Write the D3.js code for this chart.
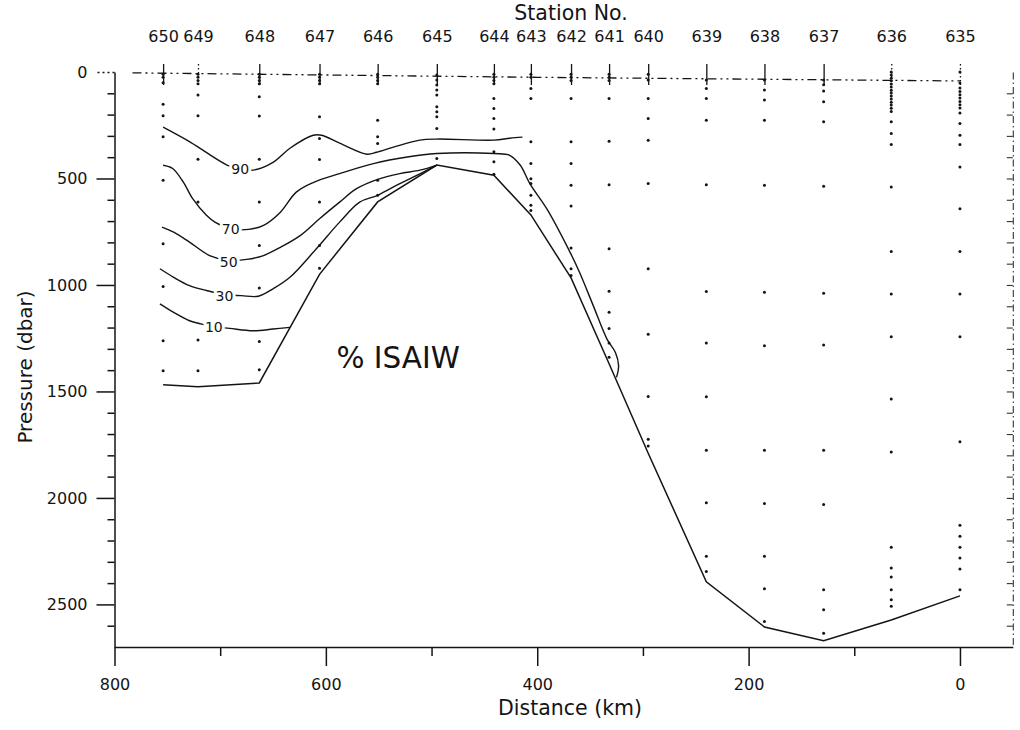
<!DOCTYPE html>
<html>
<head>
<meta charset="utf-8">
<script src="https://cdn.jsdelivr.net/npm/d3@7"></script>
<style>
  body { margin: 0; background: #fff; }
  svg { display: block; font-family: "DejaVu Sans", sans-serif; }
</style>
</head>
<body>
<svg id="chart" width="1020" height="730"></svg>
<script>
// ---- Station section: CTD stations along the track ----
const stations   = [650, 649, 648, 647, 646, 645, 644, 643, 642, 641, 640, 639, 638, 637, 636, 635];
const stationKm  = [754, 721, 663, 606, 551, 495, 441, 406, 368, 332, 295, 240, 185, 129, 65, 0];
// Deepest pressure reached at each station (sea floor trace), dbar
const bottomDbar = [1469, 1478, 1460, 950, 610, 437, 485, 671, 967, 1370, 1790, 2394, 2606, 2671, 2573, 2460];

// Bottle sample pressures per station (dbar)
const samples = [
  [10, 25, 50, 152, 206, 304, 508, 807, 1007, 1262, 1403],
  [10, 25, 40, 55, 108, 206, 410, 611, 1259, 1403],
  [10, 25, 40, 55, 116, 207, 410, 611, 815, 1014, 1266, 1398],
  [10, 25, 40, 55, 210, 312, 411, 611, 815, 921],
  [10, 25, 40, 55, 226, 304, 336, 508, 579],
  [14, 38, 61, 85, 108, 163, 187, 210, 265, 406],
  [10, 25, 40, 55, 124, 171, 218, 268, 375, 422, 480],
  [10, 25, 77, 124, 328, 430, 501, 524, 579, 626, 650],
  [10, 25, 40, 124, 328, 430, 532, 629, 827, 924, 956],
  [10, 25, 40, 124, 325, 529, 830, 1030, 1128, 1204, 1273, 1340],
  [10, 38, 124, 218, 320, 524, 924, 1232, 1524, 1725, 1756],
  [38, 77, 124, 226, 529, 1031, 1273, 1525, 1776, 2023, 2274, 2345],
  [38, 85, 132, 226, 532, 1034, 1285, 1776, 2026, 2274, 2426, 2580],
  [38, 60, 89, 140, 234, 537, 1039, 1282, 1776, 2031, 2431, 2525, 2635],
  [0, 14, 29, 41, 56, 70, 86, 99, 113, 127, 142, 155, 170, 186, 234, 289, 341, 540, 843, 1042, 1243, 1536, 1784, 2232, 2329, 2371, 2431, 2478, 2509],
  [0, 52, 75, 91, 107, 122, 138, 154, 169, 193, 242, 297, 341, 446, 642, 843, 1042, 1243, 1736, 2128, 2180, 2232, 2282, 2334, 2431]
];

// Percentage ISAIW isolines, [distance km, pressure dbar]
const contour90 = [[754,259],[728,330],[693,438],[681,455],[669,461],[650,424],[634,358],[612,297],[604,297],
  [587,334],[561,386],[552,377],[536,353],[511,320],[495,315],[441,320],[426,311],[414,306]];
const contour70 = [[754,438],[745,453],[735,516],[726,595],[713,673],[705,705],[690,736],[673,739],[659,720],
  [643,658],[628,564],[612,519],[587,477],[555,430],[523,399],[495,383],[441,383],[426,391],[416,438],
  [407,524],[391,642],[369,846],[360,940],[347,1097],[334,1254],[326,1317],[323,1380],[325,1434]];
const contour50 = [[755,728],[744,752],[729,799],[710,862],[692,885],[675,880],[659,862],[643,823],[624,767],
  [606,689],[587,611],[571,548],[551,504],[530,477],[511,461],[495,437]];
const contour30 = [[757,924],[744,964],[729,1003],[713,1026],[696,1045],[680,1050],[664,1053],[650,1018],
  [634,964],[609,830],[587,705],[568,611],[551,579],[530,524],[517,493],[495,437]];
const contour10 = [[757,1089],[744,1129],[729,1168],[718,1183],[706,1196],[691,1204],[669,1215],[650,1207],[634,1199]];

const contourLevels = [90, 70, 50, 30, 10];
const contourLabelAt = [[681,453],[690,739],[692,890],[696,1050],[706,1199]];

// Sea-surface reference trace
const surfaceLine = [[783,4],[400,25],[0,42]];

// Axis ticks
const distanceTicks      = [800, 600, 400, 200, 0];
const distanceMinorTicks = [700, 500, 300, 100];
const pressureTicks      = [0, 500, 1000, 1500, 2000, 2500];
const pressureMinorTicks = [100, 200, 300, 400, 600, 700, 800, 900, 1100, 1200, 1300, 1400,
  1600, 1700, 1800, 1900, 2100, 2200, 2300, 2400, 2600];
const rightTicks = [100, 200, 300, 400, 500, 600, 700, 800, 900, 1000, 1100, 1200, 1300, 1400, 1500,
  1600, 1700, 1800, 1900, 2000, 2100, 2200, 2300, 2400, 2500, 2600];

// ---- Drawing ----
const ink = "#141414";
const svg = d3.select("#chart");

const x = d3.scaleLinear().domain([800, -50]).range([114.5, 1012.8]);
const y = d3.scaleLinear().domain([0, 2700]).range([72, 647]);
const plain = d3.format("d");

function styleAxis(g, fontSize) {
  g.attr("font-family", null).attr("font-size", fontSize);
  g.selectAll("path, line").attr("stroke", ink).attr("stroke-width", 1.5);
  g.selectAll("text").attr("fill", ink);
}

// pressure axis (left)
const gy = svg.append("g").attr("transform", `translate(${x(800)},0)`)
  .call(d3.axisLeft(y).tickValues(pressureTicks).tickFormat(plain)
    .tickSize(18).tickPadding(9).tickSizeOuter(0));
styleAxis(gy, 16);
gy.selectAll(".tick").filter(d => d === 0).select("line").attr("stroke-dasharray", "2,3");
const gyMinor = svg.append("g").attr("transform", `translate(${x(800)},0)`)
  .call(d3.axisLeft(y).tickValues(pressureMinorTicks).tickSize(7).tickFormat(""));
gyMinor.select(".domain").remove();
styleAxis(gyMinor, 16);

// distance axis (bottom)
const gx = svg.append("g").attr("transform", `translate(0,${y(2700)})`)
  .call(d3.axisBottom(x).tickValues(distanceTicks).tickFormat(plain)
    .tickSize(19).tickPadding(13).tickSizeOuter(0));
styleAxis(gx, 16);
const gxMinor = svg.append("g").attr("transform", `translate(0,${y(2700)})`)
  .call(d3.axisBottom(x).tickValues(distanceMinorTicks).tickSize(9).tickFormat(""));
gxMinor.select(".domain").remove();
styleAxis(gxMinor, 16);

// faint dash-dot frame on the right
const gr = svg.append("g").attr("transform", `translate(${x(-50)},0)`)
  .call(d3.axisLeft(y).tickValues(rightTicks).tickSize(6).tickFormat("").tickSizeOuter(0));
gr.selectAll("path, line").attr("stroke", "#333").attr("stroke-width", 1.1);
gr.select(".domain").attr("stroke-dasharray", "7,3,1.5,3");

// station axis (top)
const gs = svg.append("g").attr("transform", "translate(0,64)")
  .call(d3.axisTop(x).tickValues(stationKm).tickFormat((d, i) => stations[i])
    .tickSize(-21).tickPadding(22).tickSizeOuter(0));
gs.select(".domain").remove();
styleAxis(gs, 16);
gs.selectAll(".tick line").attr("stroke-width", 1.3);
const dottedStations = new Set([649, 636, 635]);
gs.selectAll(".tick").filter((d, i) => dottedStations.has(stations[i]))
  .select("line").attr("stroke-dasharray", "1.5,2.5");

// sea surface trace
svg.append("path")
  .datum(surfaceLine)
  .attr("d", d3.line().x(d => x(d[0])).y(d => y(d[1])))
  .attr("fill", "none").attr("stroke", ink).attr("stroke-width", 1.3)
  .attr("stroke-dasharray", "9,4,2,4,2,4");

// sample dots
const dots = [];
samples.forEach((col, i) => col.forEach(p => dots.push([stationKm[i], p])));
svg.append("g").selectAll("circle").data(dots).join("circle")
  .attr("cx", d => x(d[0])).attr("cy", d => y(d[1])).attr("r", 1.5).attr("fill", ink);

// sea floor trace
svg.append("path")
  .datum(stationKm.map((k, i) => [k, bottomDbar[i]]))
  .attr("d", d3.line().x(d => x(d[0])).y(d => y(d[1])))
  .attr("fill", "none").attr("stroke", ink).attr("stroke-width", 1.5);

// isolines
const contours = [contour90, contour70, contour50, contour30, contour10];
const smooth = d3.line().x(d => x(d[0])).y(d => y(d[1])).curve(d3.curveCatmullRom.alpha(0.5));
svg.append("g").selectAll("path").data(contours).join("path")
  .attr("d", smooth)
  .attr("fill", "none").attr("stroke", ink).attr("stroke-width", 1.4);

// isoline labels
svg.append("g").selectAll("text").data(contourLevels).join("text")
  .attr("x", (d, i) => x(contourLabelAt[i][0]))
  .attr("y", (d, i) => y(contourLabelAt[i][1]))
  .attr("dy", "0.36em")
  .attr("text-anchor", "middle")
  .attr("font-size", 14)
  .attr("fill", ink)
  .attr("stroke", "#fff").attr("stroke-width", 6).attr("paint-order", "stroke")
  .text(d => d);

// titles
svg.append("text").attr("x", x(590)).attr("y", y(1389))
  .attr("font-size", 29.5).attr("fill", ink).text("% ISAIW");

svg.append("text").attr("x", 571).attr("y", 20).attr("text-anchor", "middle")
  .attr("font-size", 20.5).attr("fill", ink).text("Station No.");

svg.append("text").attr("x", 570).attr("y", 715).attr("text-anchor", "middle")
  .attr("font-size", 20.5).attr("fill", ink).text("Distance (km)");

svg.append("text").attr("transform", "translate(32,367) rotate(-90)").attr("text-anchor", "middle")
  .attr("font-size", 20).attr("fill", ink).text("Pressure (dbar)");
</script>
</body>
</html>
